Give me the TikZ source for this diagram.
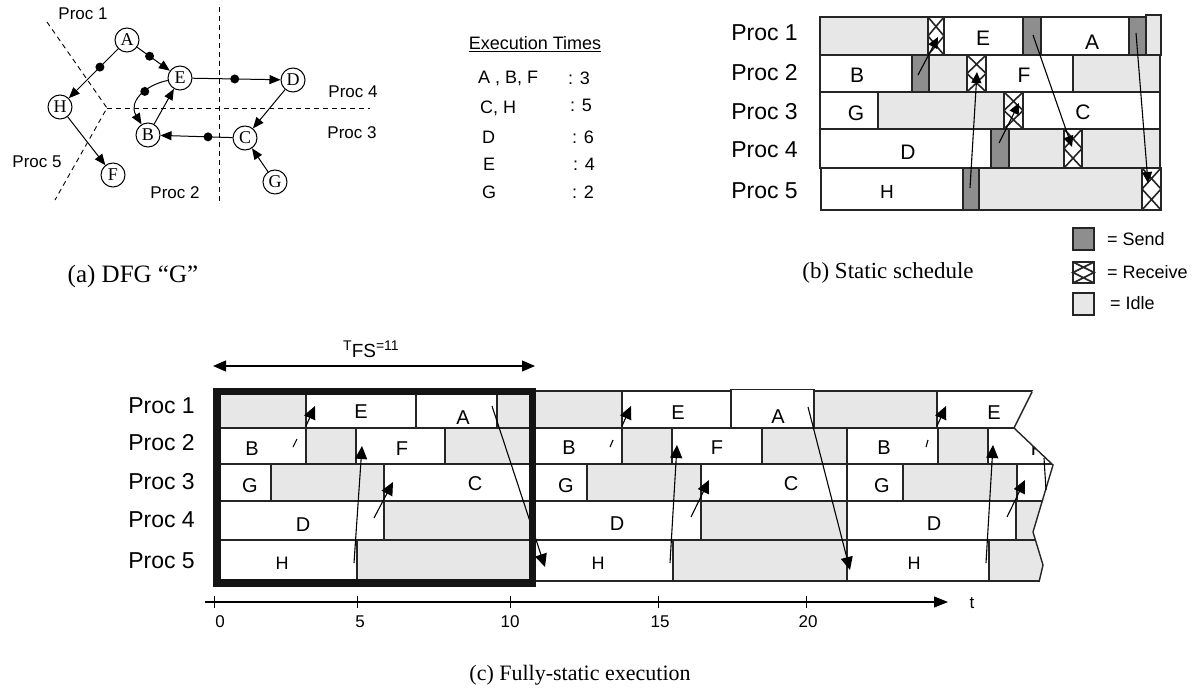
\documentclass[tikz,border=0pt]{standalone}
\usepackage{fontspec}
\setmainfont{Liberation Serif}
\setsansfont{Liberation Sans}
\usetikzlibrary{arrows.meta}
\definecolor{idlec}{HTML}{E6E7E6}
\definecolor{sendc}{HTML}{8E8E8E}
\definecolor{linec}{HTML}{252525}
\newcommand{\fsz}[1]{\fontsize{#1}{#1}\selectfont}
\newcommand{\recvcell}[4]{%
  \draw[busy] (#1,#2) rectangle (#3,#4);
  \draw[recvl] (#1,#2) -- (#3,{(#2+#4)/2}) -- (#1,#4)
               (#3,#2) -- (#1,{(#2+#4)/2}) -- (#3,#4);
}
\begin{document}
\begin{tikzpicture}[x=1pt,y=-1pt,
  cell/.style={draw=linec,line width=1.4pt},
  idle/.style={cell,fill=idlec},
  send/.style={cell,fill=sendc},
  busy/.style={cell,fill=white},
  recvl/.style={draw=linec,line width=1.6pt},
  lbl/.style={font={\sffamily\fsz{21}},inner sep=0pt},
  clbl/.style={font={\sffamily\fsz{20}},inner sep=0pt},
  proc/.style={font={\sffamily\fsz{23}},inner sep=0pt,anchor=east},
  sproc/.style={font={\sffamily\fsz{17}},inner sep=0pt},
  tab/.style={font={\sffamily\fsz{18}},inner sep=0pt,anchor=west},
  captxt/.style={font={\fsz{23}},inner sep=0pt},
  arr/.style={-{Triangle[length=13pt,width=12pt]},line width=1.1pt,draw=black},
  barr/.style={-{Triangle[length=11pt,width=10pt]},line width=1.1pt,draw=black},
  dfg/.style={circle,draw,line width=1pt,fill=white,minimum size=24pt,inner sep=0pt,font={\fsz{18}}},
  darr/.style={-{Triangle[length=11pt,width=9pt]},line width=1pt},
  dot/.style={circle,fill=black,minimum size=9pt,inner sep=0pt},
  dsh/.style={dash pattern=on 5pt off 4pt,line width=0.9pt},
  tickl/.style={line width=1pt},
  ticklbl/.style={font={\sffamily\fsz{17}},inner sep=0pt}
]
\useasboundingbox (0,0) rectangle (1196,690);

% ================= (a) DFG =================
\draw[dsh] (219,7) -- (219,203);
\draw[dsh] (107,108) -- (370,108);
\draw[dsh] (47,22) -- (107,108) -- (55,200);

\node[dfg] (A) at (127,40) {A};
\node[dfg] (E) at (180,78) {E};
\node[dfg] (D) at (293,80) {D};
\node[dfg] (H) at (60,107) {H};
\node[dfg] (B) at (148,135) {B};
\node[dfg] (C) at (245,138) {C};
\node[dfg] (F) at (113,175) {F};
\node[dfg] (G) at (275,182) {G};

\draw[darr] (A) -- node[dot,pos=0.37] (dAH) {} (H);
\draw[darr] (A) -- node[dot,pos=0.38] (dAE) {} (E);
\draw[darr] (E) -- node[dot,pos=0.48] (dED) {} (D);
\draw[darr] (E) .. controls (145,85) and (128,102) .. node[dot,pos=0.4] (dEB) {} (B);
\draw[darr] (B) -- (E);
\draw[darr] (C) -- node[dot,pos=0.34] (dCB) {} (B);
\draw[darr] (D) -- (C);
\draw[darr] (G) -- (C);
\draw[darr] (H) -- (F);

\node[sproc] (pa1) at (83,14) {Proc 1};
\node[sproc] (pa4) at (353,92) {Proc 4};
\node[sproc] (pa3) at (352,133) {Proc 3};
\node[sproc] (pa5) at (37,162) {Proc 5};
\node[sproc] (pa2) at (175,193) {Proc 2};

\node[captxt,font={\fsz{25}}] (capa) at (133,276) {(a) DFG “G”};

% Execution times
\node[font={\sffamily\fsz{18}},inner sep=0pt] (ethead) at (535,44) {\underline{Execution Times}};
\node[tab] (t1a) at (478,78) {A , B, F};
\node[tab] (t1b) at (568,78) {: 3};
\node[tab] (t2a) at (480,108) {C, H};
\node[tab] (t2b) at (570,105) {: 5};
\node[tab] (t3a) at (482,137) {D};
\node[tab] (t3b) at (572,137) {: 6};
\node[tab] (t4a) at (483,164) {E};
\node[tab] (t4b) at (573,164) {: 4};
\node[tab] (t5a) at (482,192) {G};
\node[tab] (t5b) at (572,192) {: 2};

% ================= (b) Static schedule =================
% row 1
\draw[idle] (820,17) rectangle (928,55);
\recvcell{928}{17}{944}{55}
\draw[busy] (944,17) rectangle (1023,55);
\draw[send] (1023,17) rectangle (1041,55);
\draw[busy] (1041,17) rectangle (1129,55);
\draw[send] (1129,17) rectangle (1146,55);
\draw[idle] (1146,15) rectangle (1161,55);
% row 2
\draw[busy] (820,55) rectangle (912,92);
\draw[send] (912,55) rectangle (929,92);
\draw[idle] (929,55) rectangle (967,92);
\recvcell{967}{55}{986}{92}
\draw[busy] (986,55) rectangle (1073,92);
\draw[idle] (1073,55) rectangle (1160,92);
% row 3
\draw[busy] (820,92) rectangle (878,129);
\draw[idle] (878,92) rectangle (1004,129);
\recvcell{1004}{92}{1023}{129}
\draw[busy] (1023,92) rectangle (1160,129);
% row 4
\draw[busy] (820,129) rectangle (991,168);
\draw[send] (991,129) rectangle (1009,168);
\draw[idle] (1009,129) rectangle (1064,168);
\recvcell{1064}{129}{1082}{168}
\draw[idle] (1082,129) rectangle (1160,168);
% row 5
\draw[busy] (821,168) rectangle (963,210);
\draw[send] (963,168) rectangle (979,210);
\draw[idle] (979,168) rectangle (1142,210);
\recvcell{1142}{168}{1161}{210}

\node[lbl] (bE) at (983,38) {E};
\node[lbl] (bA) at (1092,42) {A};
\node[lbl] (bB) at (857,75) {B};
\node[lbl] (bF) at (1024,75) {F};
\node[lbl] (bG) at (856,113) {G};
\node[lbl] (bC) at (1083,112) {C};
\node[lbl] (bD) at (908,152) {D};
\node[lbl,font={\sffamily\fsz{19}}] (bH) at (887,192) {H};

\node[proc] (pb1) at (798,33) {Proc 1};
\node[proc] (pb2) at (798,73) {Proc 2};
\node[proc] (pb3) at (798,112) {Proc 3};
\node[proc] (pb4) at (798,150) {Proc 4};
\node[proc] (pb5) at (798,191) {Proc 5};

\coordinate (bs1) at (918,75);   \coordinate (br1) at (938,37);
\coordinate (bs2) at (970,188);  \coordinate (br2) at (977,72);
\coordinate (bs3) at (999,143);  \coordinate (br3) at (1019,103);
\coordinate (bs4) at (1033,35);  \coordinate (br4) at (1072,147);
\coordinate (bs5) at (1136,33);  \coordinate (br5) at (1148,183);
\draw[barr] (bs1) -- (br1);
\draw[barr] (bs2) -- (br2);
\draw[barr] (bs3) -- (br3);
\draw[barr] (bs4) -- (br4);
\draw[barr] (bs5) -- (br5);

% legend
\draw[send] (1073,228) rectangle (1094,250);
\recvcell{1073}{262}{1094}{283}
\draw[idle] (1073,293) rectangle (1094,315);
\node[tab] (lgs) at (1107,239) {= Send};
\node[tab] (lgr) at (1107,272) {= Receive};
\node[tab] (lgi) at (1110,303) {= Idle};

\node[captxt] (capb) at (888,273) {(b) Static schedule};

% ================= (c) Fully-static execution =================
% iteration 1
\draw[idle] (217,391) rectangle (306,428);
\draw[busy] (306,391) rectangle (416,428);
\draw[busy] (416,391) rectangle (497,428);
\draw[idle] (497,391) rectangle (622,428);
\draw[busy] (217,428) rectangle (306,464);
\draw[idle] (306,428) rectangle (356,464);
\draw[busy] (356,428) rectangle (445,464);
\draw[idle] (445,428) rectangle (532,464);
\draw[busy] (217,464) rectangle (271,501);
\draw[idle] (271,464) rectangle (384,501);
\draw[busy] (384,464) rectangle (532,501);
\draw[busy] (217,501) rectangle (384,540);
\draw[idle] (384,501) rectangle (532,540);
\draw[busy] (217,540) rectangle (357,581);
\draw[idle] (357,540) rectangle (532,581);
% iteration 2
\draw[busy] (622,391) rectangle (731,428);
\draw[busy] (731,389.5) rectangle (814,428);
\draw[idle] (814,391) rectangle (937,428);
\draw[busy] (532,428) rectangle (622,464);
\draw[idle] (622,428) rectangle (672,464);
\draw[busy] (672,428) rectangle (762,464);
\draw[idle] (762,428) rectangle (847,464);
\draw[busy] (532,464) rectangle (587,501);
\draw[idle] (587,464) rectangle (701,501);
\draw[busy] (701,464) rectangle (847,501);
\draw[busy] (532,501) rectangle (701,540);
\draw[idle] (701,501) rectangle (847,540);
\draw[busy] (532,540) rectangle (673,581);
\draw[idle] (673,540) rectangle (847,581);
% iteration 3 (cut off)
\begin{scope}
\clip (830,385) -- (1035.5,385) -- (1014,428) -- (1053,465) -- (1033,532)
      -- (1043,565) -- (1037,590) -- (830,590) -- cycle;
\draw[busy] (937,391) rectangle (1070,428);
\draw[busy] (847,428) rectangle (938,464);
\draw[idle] (938,428) rectangle (988,464);
\draw[busy] (988,428) rectangle (1070,464);
\draw[busy] (847,464) rectangle (903,501);
\draw[idle] (903,464) rectangle (1017,501);
\draw[busy] (1017,464) rectangle (1070,501);
\draw[busy] (847,501) rectangle (1016,540);
\draw[idle] (1016,501) rectangle (1070,540);
\draw[busy] (847,540) rectangle (989,581);
\draw[idle] (989,540) rectangle (1070,581);
\node[clbl] (c3F) at (1037,449) {F};
\end{scope}
\draw[cell] (1032,392) -- (1014,428) -- (1053,465) -- (1033,532) -- (1043,565) -- (1039,582);
\draw[line width=1.1pt] (1044,458) -- (1046,490);

% labels (c)
\node[clbl] (c1E) at (361,412) {E};
\node[clbl] (c1A) at (463,418) {A};
\node[clbl] (c1B) at (252,449) {B};
\node[clbl] (c1F) at (402,449) {F};
\node[clbl] (c1G) at (250,486) {G};
\node[clbl] (c1C) at (475,484) {C};
\node[clbl] (c1D) at (303,525) {D};
\node[clbl,font={\sffamily\fsz{18}}] (c1H) at (282,563) {H};
\node[clbl] (c2E) at (678,413) {E};
\node[clbl] (c2A) at (778,417) {A};
\node[clbl] (c2B) at (569,448) {B};
\node[clbl] (c2F) at (717,448) {F};
\node[clbl] (c2G) at (566,486) {G};
\node[clbl] (c2C) at (791,484) {C};
\node[clbl] (c2D) at (617,524) {D};
\node[clbl,font={\sffamily\fsz{18}}] (c2H) at (598,563) {H};
\node[clbl] (c3E) at (994,413) {E};
\node[clbl] (c3B) at (884,448) {B};
\node[clbl] (c3G) at (882,486) {G};
\node[clbl] (c3D) at (934,524) {D};
\node[clbl,font={\sffamily\fsz{18}}] (c3H) at (914,563) {H};

% arrows (c)
\coordinate (t1a) at (293,447); \coordinate (t1b) at (297,439);
\coordinate (e1a) at (306,426); \coordinate (e1b) at (315,406);
\coordinate (f1a) at (354,563); \coordinate (f1b) at (362,446);
\coordinate (g1a) at (374,518); \coordinate (g1b) at (393,482);
\coordinate (h1a) at (492,406); \coordinate (h1b) at (545,567);
\coordinate (t2a) at (610,447); \coordinate (t2b) at (613,440);
\coordinate (e2a) at (622,426); \coordinate (e2b) at (631,406);
\coordinate (f2a) at (670,563); \coordinate (f2b) at (677,445);
\coordinate (g2a) at (691,517); \coordinate (g2b) at (709,480);
\coordinate (h2a) at (808,407); \coordinate (h2b) at (850,570);
\coordinate (t3a) at (926,447); \coordinate (t3b) at (928,440);
\coordinate (e3a) at (937,426); \coordinate (e3b) at (946,406);
\coordinate (f3a) at (986,563); \coordinate (f3b) at (993,445);
\coordinate (g3a) at (1007,517); \coordinate (g3b) at (1025,480);
\draw[line width=1.1pt] (t1a) -- (t1b);
\draw[line width=1.1pt] (t2a) -- (t2b);
\draw[line width=1.1pt] (t3a) -- (t3b);
\draw[arr] (e1a) -- (e1b);
\draw[arr] (f1a) -- (f1b);
\draw[arr] (g1a) -- (g1b);
\draw[arr] (h1a) -- (h1b);
\draw[arr] (e2a) -- (e2b);
\draw[arr] (f2a) -- (f2b);
\draw[arr] (g2a) -- (g2b);
\draw[arr] (h2a) -- (h2b);
\draw[arr] (e3a) -- (e3b);
\draw[arr] (f3a) -- (f3b);
\draw[arr] (g3a) -- (g3b);

% thick frame
\draw[line width=7.5pt,draw=black!92] (217,391.5) rectangle (532.5,583);

% T_FS
\coordinate (tfl) at (213,366); \coordinate (tfr) at (535,366);
\draw[{Triangle[length=13pt,width=11pt]}-{Triangle[length=13pt,width=11pt]},line width=1.1pt] (tfl) -- (tfr);
\node[font=\sffamily,inner sep=0pt,anchor=base west] (tfs) at (343,350)
  {{\fsz{14}T}\raisebox{-7pt}{\fsz{19}FS}{\fsz{14}=11}};

% Proc labels (c)
\node[proc] (pc1) at (195,406) {Proc 1};
\node[proc] (pc2) at (195,443) {Proc 2};
\node[proc] (pc3) at (195,482) {Proc 3};
\node[proc] (pc4) at (195,520) {Proc 4};
\node[proc] (pc5) at (195,561) {Proc 5};

% time axis
\coordinate (ax0) at (205,602); \coordinate (ax1) at (948,602);
\draw[-{Triangle[length=14pt,width=11pt]},line width=1.1pt] (ax0) -- (ax1);
\foreach \xx in {214,357,510,658,806} \draw[tickl] (\xx,596) -- (\xx,608);
\node[ticklbl] (x0) at (220,622) {0};
\node[ticklbl] (x5) at (360,622) {5};
\node[ticklbl] (x10) at (510,622) {10};
\node[ticklbl] (x15) at (660,622) {15};
\node[ticklbl] (x20) at (808,622) {20};
\node[ticklbl] (tt) at (972,603) {t};

\node[captxt,font={\fsz{22}}] (capc) at (580,675) {(c) Fully-static execution};
\end{tikzpicture}
\end{document}
